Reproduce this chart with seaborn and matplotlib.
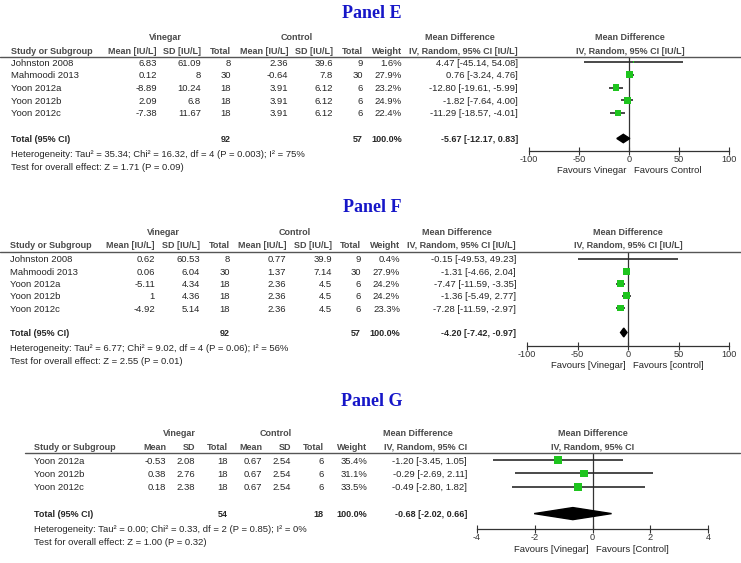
import matplotlib
matplotlib.use("Agg")
import matplotlib.pyplot as plt
from matplotlib.lines import Line2D
import numpy as np
import seaborn as sns

# ---------------- data: Panel E ----------------
E_study = ["Johnston 2008", "Mahmoodi 2013", "Yoon 2012a", "Yoon 2012b", "Yoon 2012c"]
E_vin_mean = [6.83, 0.12, -8.89, 2.09, -7.38]
E_vin_sd = [61.09, 8, 10.24, 6.8, 11.67]
E_vin_n = [8, 30, 18, 18, 18]
E_ctl_mean = [2.36, -0.64, 3.91, 3.91, 3.91]
E_ctl_sd = [39.6, 7.8, 6.12, 6.12, 6.12]
E_ctl_n = [9, 30, 6, 6, 6]
E_weight = [1.6, 27.9, 23.2, 24.9, 22.4]
E_md = [4.47, 0.76, -12.80, -1.82, -11.29]
E_lo = [-45.14, -3.24, -19.61, -7.64, -18.57]
E_hi = [54.08, 4.76, -5.99, 4.00, -4.01]
E_total = [-5.67, -12.17, 0.83]
E_n_total = [92, 57]
E_het = "Heterogeneity: Tau² = 35.34; Chi² = 16.32, df = 4 (P = 0.003); I² = 75%"
E_test = "Test for overall effect: Z = 1.71 (P = 0.09)"
E_favours = ["Favours Vinegar", "Favours Control"]
E_ticks = [-100, -50, 0, 50, 100]

# ---------------- data: Panel F ----------------
F_study = ["Johnston 2008", "Mahmoodi 2013", "Yoon 2012a", "Yoon 2012b", "Yoon 2012c"]
F_vin_mean = [0.62, 0.06, -5.11, 1, -4.92]
F_vin_sd = [60.53, 6.04, 4.34, 4.36, 5.14]
F_vin_n = [8, 30, 18, 18, 18]
F_ctl_mean = [0.77, 1.37, 2.36, 2.36, 2.36]
F_ctl_sd = [39.9, 7.14, 4.5, 4.5, 4.5]
F_ctl_n = [9, 30, 6, 6, 6]
F_weight = [0.4, 27.9, 24.2, 24.2, 23.3]
F_md = [-0.15, -1.31, -7.47, -1.36, -7.28]
F_lo = [-49.53, -4.66, -11.59, -5.49, -11.59]
F_hi = [49.23, 2.04, -3.35, 2.77, -2.97]
F_total = [-4.20, -7.42, -0.97]
F_n_total = [92, 57]
F_het = "Heterogeneity: Tau² = 6.77; Chi² = 9.02, df = 4 (P = 0.06); I² = 56%"
F_test = "Test for overall effect: Z = 2.55 (P = 0.01)"
F_favours = ["Favours [Vinegar]", "Favours [control]"]
F_ticks = [-100, -50, 0, 50, 100]

# ---------------- data: Panel G ----------------
G_study = ["Yoon 2012a", "Yoon 2012b", "Yoon 2012c"]
G_vin_mean = [-0.53, 0.38, 0.18]
G_vin_sd = [2.08, 2.76, 2.38]
G_vin_n = [18, 18, 18]
G_ctl_mean = [0.67, 0.67, 0.67]
G_ctl_sd = [2.54, 2.54, 2.54]
G_ctl_n = [6, 6, 6]
G_weight = [35.4, 31.1, 33.5]
G_md = [-1.20, -0.29, -0.49]
G_lo = [-3.45, -2.69, -2.80]
G_hi = [1.05, 2.11, 1.82]
G_total = [-0.68, -2.02, 0.66]
G_n_total = [54, 18]
G_het = "Heterogeneity: Tau² = 0.00; Chi² = 0.33, df = 2 (P = 0.85); I² = 0%"
G_test = "Test for overall effect: Z = 1.00 (P = 0.32)"
G_favours = ["Favours [Vinegar]", "Favours [Control]"]
G_ticks = [-4, -2, 0, 2, 4]

EF_heads = ["Mean [IU/L]", "SD [IU/L]", "Total", "Mean [IU/L]", "SD [IU/L]", "Total",
            "Weight", "IV, Random, 95% CI [IU/L]"]
G_heads = ["Mean", "SD", "Total", "Mean", "SD", "Total", "Weight", "IV, Random, 95% CI"]

sns.set_theme(style="white")
plt.rcParams["font.family"] = ["Liberation Sans", "DejaVu Sans"]
plt.rcParams["axes.unicode_minus"] = False

W, H = 741, 563
FS = 6.8      # body text
HS = 6.5      # bold header text
TS = 6.6      # tick labels
TXT = "#262626"
HEAD = "#4a4a4a"
GREEN = "#1ec41e"
BLUE = "#1616c8"

fig = plt.figure(figsize=(W / 100, H / 100), dpi=100)


def put(px, py, s, ha="left", bold=False, size=FS, color=TXT, **kw):
    fig.text(px / W, 1 - py / H, s, ha=ha, va="center", fontsize=size,
             fontweight="bold" if bold else "normal", color=color, **kw)


def panel(name, study, vin_mean, vin_sd, vin_n, ctl_mean, ctl_sd, ctl_n, weight,
          md, lo, hi, total, n_total, het, test, favours, ticks, heads, lay):
    n = len(study)
    hl, row0, sp, axis_y = lay["hl"], lay["row0"], lay["sp"], lay["axis_y"]
    cx = lay["cols"]          # right edges of the 8 numeric columns
    left = lay["left"]

    # title and headers
    put(lay["title_x"], hl - lay["title_dy"], name, ha="center", bold=True, size=13,
        color=BLUE, family=["Liberation Serif"])
    put(lay["grp"][0], hl - 19, "Vinegar", ha="center", bold=True, size=HS, color=HEAD)
    put(lay["grp"][1], hl - 19, "Control", ha="center", bold=True, size=HS, color=HEAD)
    put(lay["grp"][2], hl - 19, "Mean Difference", ha="center", bold=True, size=HS, color=HEAD)
    put(lay["grp"][3], hl - 19, "Mean Difference", ha="center", bold=True, size=HS, color=HEAD)
    put(left, hl - 6, "Study or Subgroup", bold=True, size=HS, color=HEAD)
    for x, h in zip(cx, heads):
        put(x, hl - 6, h, ha="right", bold=True, size=HS, color=HEAD)
    put(lay["grp"][3], hl - 6, heads[-1], ha="center", bold=True, size=HS, color=HEAD)
    fig.add_artist(Line2D([lay["rule"][0] / W, lay["rule"][1] / W], [1 - hl / H] * 2,
                          transform=fig.transFigure, color="#555555", lw=1.0))

    # study rows
    for i in range(n):
        y = row0 + i * sp + 1
        put(left, y, study[i])
        vals = ["{:g}".format(vin_mean[i]), "{:g}".format(vin_sd[i]), str(vin_n[i]),
                "{:g}".format(ctl_mean[i]), "{:g}".format(ctl_sd[i]), str(ctl_n[i]),
                "{:.1f}%".format(weight[i]),
                "{:.2f} [{:.2f}, {:.2f}]".format(md[i], lo[i], hi[i])]
        for x, v in zip(cx, vals):
            put(x, y, v, ha="right")

    # total row
    yt = row0 + (n + 1) * sp + 1
    put(left, yt, "Total (95% CI)", bold=True, size=HS)
    put(cx[2], yt, str(n_total[0]), ha="right", bold=True, size=HS)
    put(cx[5], yt, str(n_total[1]), ha="right", bold=True, size=HS)
    put(cx[6], yt, "100.0%", ha="right", bold=True, size=HS)
    put(cx[7], yt, "{:.2f} [{:.2f}, {:.2f}]".format(*total), ha="right", bold=True, size=HS)
    put(left, yt + 15, het)
    put(left, yt + 28, test)

    # forest plot axes
    x0, x1 = lay["ax_x"]
    ax = fig.add_axes([x0 / W, 1 - axis_y / H, (x1 - x0) / W, (axis_y - hl) / H])
    ax.patch.set_alpha(0)
    ys = np.arange(n)
    ax.hlines(ys, lo, hi, color="#2a2a2a", lw=1.2, zorder=2)
    sns.scatterplot(x=md, y=ys, size=weight, sizes=(0, 95), size_norm=(0, 100),
                    marker="s", color=GREEN, linewidth=0, legend=False, ax=ax, zorder=3)
    t = n + 1
    dh = lay["dh"]
    ax.fill([total[1], total[0], total[2], total[0]], [t, t - dh, t, t + dh],
            color="black", zorder=3)
    ax.axvline(0, color="#333333", lw=0.9, zorder=1)
    ax.set_xlim(ticks[0], ticks[-1])
    ax.set_ylim((axis_y - row0) / sp, -(row0 - hl) / sp)
    ax.set_xticks(ticks)
    ax.set_xticklabels([str(v) for v in ticks])
    ax.set_yticks([])
    ax.set_xlabel("")
    ax.set_ylabel("")
    for s in ["top", "left", "right"]:
        ax.spines[s].set_visible(False)
    ax.spines["bottom"].set_color("#333333")
    ax.spines["bottom"].set_linewidth(0.9)
    ax.tick_params(axis="x", direction="inout", length=6, width=0.8, labelsize=TS,
                   pad=0, colors="#333333", bottom=True)
    ax.annotate(favours[0], xy=(0, 0), xycoords=("data", "axes fraction"),
                xytext=(-lay["fav_gap"][0], -lay["fav_dy"]), textcoords="offset pixels",
                ha="right", va="center", fontsize=FS, color=TXT)
    ax.annotate(favours[1], xy=(0, 0), xycoords=("data", "axes fraction"),
                xytext=(lay["fav_gap"][1], -lay["fav_dy"]), textcoords="offset pixels",
                ha="left", va="center", fontsize=FS, color=TXT)
    return ax


panel("Panel E", E_study, E_vin_mean, E_vin_sd, E_vin_n, E_ctl_mean, E_ctl_sd, E_ctl_n,
      E_weight, E_md, E_lo, E_hi, E_total, E_n_total, E_het, E_test, E_favours, E_ticks,
      EF_heads,
      dict(hl=57, row0=62, sp=12.75, axis_y=151, left=11,
           cols=[157, 201, 231, 288, 333, 363, 402, 518],
           grp=[165, 297, 460, 630], title_x=372, title_dy=44, rule=(0, 741),
           ax_x=(529, 729), dh=0.33, fav_gap=(3, 5), fav_dy=19.5))

panel("Panel F", F_study, F_vin_mean, F_vin_sd, F_vin_n, F_ctl_mean, F_ctl_sd, F_ctl_n,
      F_weight, F_md, F_lo, F_hi, F_total, F_n_total, F_het, F_test, F_favours, F_ticks,
      EF_heads,
      dict(hl=252, row0=259, sp=12.25, axis_y=346, left=10,
           cols=[155, 200, 230, 286, 332, 361, 400, 516],
           grp=[163, 295, 457, 628], title_x=372, title_dy=45, rule=(0, 741),
           ax_x=(527, 729), dh=0.36, fav_gap=(2, 5), fav_dy=19.5))

panel("Panel G", G_study, G_vin_mean, G_vin_sd, G_vin_n, G_ctl_mean, G_ctl_sd, G_ctl_n,
      G_weight, G_md, G_lo, G_hi, G_total, G_n_total, G_het, G_test, G_favours, G_ticks,
      G_heads,
      dict(hl=453, row0=460, sp=13.4, axis_y=529, left=34,
           cols=[166, 195, 228, 262, 291, 324, 367, 467],
           grp=[179, 276, 418, 593], title_x=372, title_dy=51, rule=(25, 740),
           ax_x=(477, 708), dh=0.45, fav_gap=(4, 4), fav_dy=21))

fig.savefig("out.png", dpi=100)
